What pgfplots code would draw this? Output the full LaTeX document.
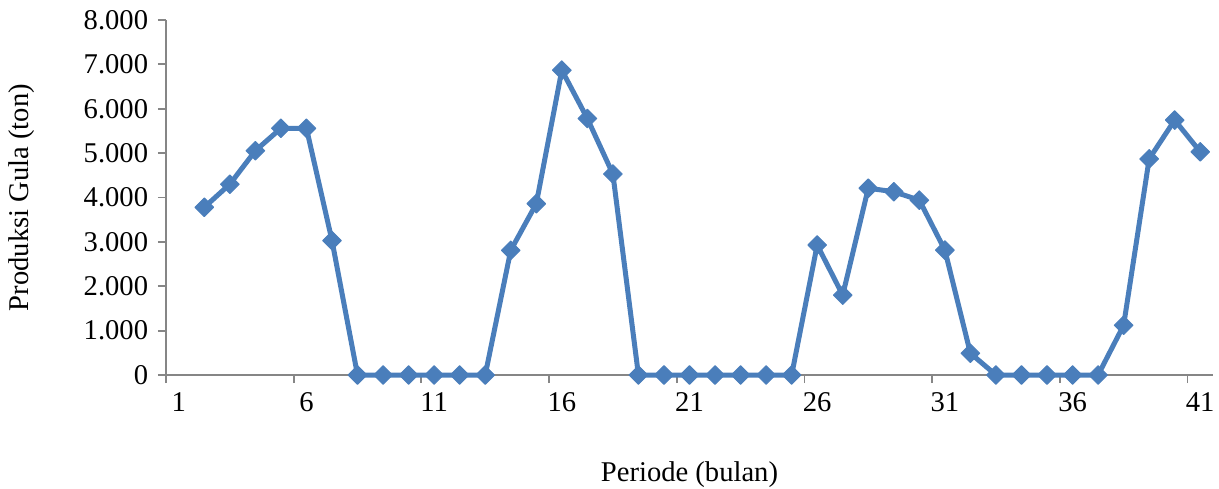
\documentclass[border=0pt]{standalone}
\usepackage{fontspec}
\setmainfont{Liberation Serif}
\usepackage{pgfplots}
\pgfplotsset{compat=1.18}
\definecolor{lineblue}{HTML}{4A7EBB}
\definecolor{axgray}{HTML}{868686}
\pgfplotstableread{
x y
2 3780
3 4300
4 5055
5 5560
6 5560
7 3030
8 0
9 0
10 0
11 0
12 0
13 0
14 2810
15 3860
16 6870
17 5780
18 4530
19 0
20 0
21 0
22 0
23 0
24 0
25 0
26 2930
27 1800
28 4210
29 4130
30 3940
31 2815
32 490
33 0
34 0
35 0
36 0
37 0
38 1120
39 4870
40 5745
41 5030
}\datatable
\begin{document}
\fontsize{14.3}{17}\selectfont
\begin{tikzpicture}
\path[use as bounding box] (-83pt,-56.5pt) rectangle (526.5pt,187.5pt);
\begin{axis}[
  scale only axis, width=523.5pt, height=177.5pt,
  at={(0,0)}, anchor=south west,
  xmin=0.5, xmax=41.5, ymin=0, ymax=8000,
  clip=false,
  axis x line=bottom, axis y line=left,
  axis line style={axgray, line width=0.9pt, -},
  xtick={0.5,5.5,...,40.5},
  xticklabels={1,6,11,16,21,26,31,36,41},
  xticklabel style={xshift=6.384pt},
  ytick={0,1000,...,8000},
  tick align=outside, major tick length=4pt,
  tick style={axgray, line width=0.9pt},
  minor tick num=0,
  /pgf/number format/1000 sep={.},
  /pgf/number format/assume math mode=true,
  tick label style={font=\fontsize{14.3}{17}\selectfont, black},
  scaled y ticks=false,
  xlabel={Periode (bulan)},
  ylabel={Produksi Gula (ton)},
  label style={font=\fontsize{14.3}{17}\selectfont},
  xlabel style={at={(axis description cs:0.5,-0.2817)}, anchor=center},
  ylabel style={at={(axis description cs:-0.1375,0.5)}, anchor=center},
]
\addplot[lineblue, line width=2.5pt, line join=round, mark=square*, mark size=3.3pt,
  mark options={rotate=45, fill=lineblue, draw=lineblue, line width=0.5pt}]
  table[x=x, y=y] {\datatable};
\end{axis}
\end{tikzpicture}
\end{document}
